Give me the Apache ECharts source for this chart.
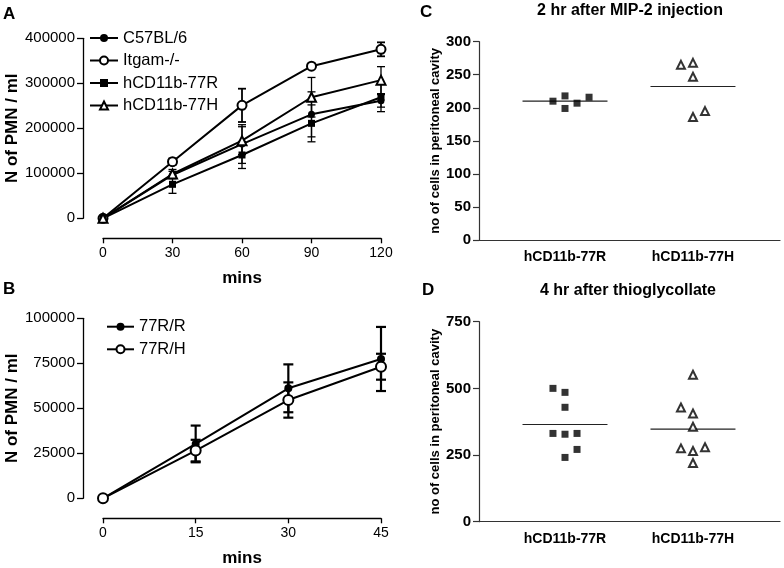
<!DOCTYPE html>
<html>
<head>
<meta charset="utf-8">
<script src="https://cdn.jsdelivr.net/npm/echarts@6/dist/echarts.min.js"></script>
<style>
html,body{margin:0;padding:0;background:#fff;}
#chart{width:784px;height:568px;}
</style>
</head>
<body>
<div id="chart"></div>
<script>
// ---------- Panel A data ----------
const timesA = [0, 30, 60, 90, 120];
const c57 = [0, 96300, 165000, 231000, 261000];
const c57Err = [0, 8000, 43000, 50000, 14000];
const itgam = [0, 125800, 251000, 338000, 375500];
const itgamErr = [0, 7000, 37000, 4000, 15500];
const r77 = [0, 75500, 140700, 211000, 269000];
const r77Err = [0, 20000, 30000, 41000, 32000];
const h77 = [0, 98500, 172500, 269000, 307000];
const h77Err = [0, 10000, 31000, 44000, 30000];
const seriesNamesA = ['C57BL/6', 'Itgam-/-', 'hCD11b-77R', 'hCD11b-77H'];

// ---------- Panel B data ----------
const timesB = [0, 15, 30, 45];
const rr = [0, 30200, 61100, 77400];
const rrErr = [0, 10200, 13300, 17800];
const rh = [0, 26500, 54600, 73100];
const rhErr = [0, 6000, 9800, 7200];
const seriesNamesB = ['77R/R', '77R/H'];

// ---------- Panels C & D data ----------
const groups = ['hCD11b-77R', 'hCD11b-77H'];
const mip77R = [210, 218, 199, 207, 216];
const mip77RSlot = [-1, 0, 0, 1, 2];
const mip77H = [265, 268, 247, 186, 195];
const mip77HSlot = [-1, 0, 0, 0, 1];
const thio77R = [500, 485, 429, 331, 328, 331, 271, 241];
const thio77RSlot = [-1, 0, 0, -1, 0, 1, 1, 0];
const thio77H = [551, 428, 406, 356, 275, 265, 279, 220];
const thio77HSlot = [0, -1, 0, 0, -1, 0, 1, 0];

const FONT = '"Liberation Sans", Arial, Helvetica, sans-serif';
const jitterStep = 0.094;
const meanHalf = 0.332;

const chart = echarts.init(document.getElementById('chart'), null, {renderer: 'canvas'});

function pairs(xs, ys) { return xs.map((x, i) => [x, ys[i]]); }
function mean(a) { return a.reduce((s, v) => s + v, 0) / a.length; }

function errSeries(ax, xs, ms, es, capHalf, lw) {
  const data = [];
  xs.forEach((x, i) => { if (es[i] > 0) data.push([x, ms[i] - es[i], ms[i] + es[i]]); });
  return {
    type: 'custom', xAxisIndex: ax, yAxisIndex: ax, silent: true, z: 1,
    data: data,
    renderItem: function (params, api) {
      const x = api.value(0);
      const lo = api.coord([x, api.value(1)]);
      const hi = api.coord([x, api.value(2)]);
      const st = {stroke: '#000', lineWidth: lw};
      return {type: 'group', children: [
        {type: 'line', shape: {x1: lo[0], y1: lo[1], x2: hi[0], y2: hi[1]}, style: st},
        {type: 'line', shape: {x1: lo[0] - capHalf, y1: lo[1], x2: lo[0] + capHalf, y2: lo[1]}, style: st},
        {type: 'line', shape: {x1: hi[0] - capHalf, y1: hi[1], x2: hi[0] + capHalf, y2: hi[1]}, style: st}
      ]};
    }
  };
}

function lineSeries(ax, name, xs, ys, symbol, size, lw, bw) {
  return {
    type: 'line', name: name, xAxisIndex: ax, yAxisIndex: ax, z: 3,
    data: pairs(xs, ys), symbol: symbol, symbolSize: size, showSymbol: true,
    lineStyle: {color: '#000', width: lw},
    itemStyle: {color: '#000', borderColor: '#000', borderWidth: bw},
    emphasis: {disabled: true}, animation: false
  };
}

function dotSeries(ax, g, vals, slots, symbol, size) {
  return {
    type: 'scatter', xAxisIndex: ax, yAxisIndex: ax, z: 3,
    data: vals.map((v, i) => [g + slots[i] * jitterStep, v]),
    symbol: symbol, symbolSize: size,
    itemStyle: symbol.indexOf('empty') === 0 ? {color: '#000', borderColor: '#000', borderWidth: 1} : {color: '#000'},
    emphasis: {disabled: true}, animation: false
  };
}

function meanSeries(ax, g, vals) {
  const m = mean(vals);
  return {
    type: 'line', xAxisIndex: ax, yAxisIndex: ax, z: 2, symbol: 'none',
    data: [[g - meanHalf, m], [g + meanHalf, m]],
    lineStyle: {color: '#222', width: 1.2}, animation: false
  };
}

const plain = v => String(v);

function xAxisTime(grid, max, interval) {
  return {
    type: 'value', gridIndex: grid, min: 0, max: max, interval: interval, offset: 20,
    axisLine: {onZero: false, lineStyle: {color: '#000', width: 1.3}},
    axisTick: {show: true, length: 5, lineStyle: {color: '#000', width: 1.3}},
    splitLine: {show: false},
    axisLabel: {formatter: plain, color: '#000', fontSize: 14, fontFamily: FONT, margin: 8},
    name: 'mins', nameLocation: 'middle', nameGap: 32,
    nameTextStyle: {color: '#000', fontSize: 17, fontWeight: 'bold', fontFamily: FONT}
  };
}
function yAxisPMN(grid, max, interval) {
  return {
    type: 'value', gridIndex: grid, min: 0, max: max, interval: interval, offset: 20,
    axisLine: {show: true, onZero: false, lineStyle: {color: '#000', width: 1.3}},
    axisTick: {show: true, length: 6, lineStyle: {color: '#000', width: 1.3}},
    splitLine: {show: false},
    axisLabel: {formatter: plain, color: '#000', fontSize: 15, fontFamily: FONT, margin: 8},
    name: 'N of PMN / ml', nameLocation: 'middle', nameRotate: 90, nameGap: 59,
    nameTextStyle: {color: '#000', fontSize: 17, fontWeight: 'bold', fontFamily: FONT}
  };
}
function xAxisGroups(grid) {
  return {
    type: 'value', gridIndex: grid, min: -0.672, max: 1.68,
    axisLine: {onZero: false, lineStyle: {color: '#333', width: 1.2}},
    axisTick: {show: false}, splitLine: {show: false},
    axisLabel: {customValues: [0, 1], formatter: v => groups[Math.round(v)] || '',
      color: '#000', fontSize: 14, fontWeight: 'bold', fontFamily: FONT, margin: 10}
  };
}
function yAxisCells(grid, max, interval) {
  return {
    type: 'value', gridIndex: grid, min: 0, max: max, interval: interval,
    axisLine: {show: true, onZero: false, lineStyle: {color: '#333', width: 1.2}},
    axisTick: {show: true, length: 6, lineStyle: {color: '#333', width: 1.2}},
    splitLine: {show: false},
    axisLabel: {formatter: plain, color: '#000', fontSize: 15, fontWeight: 'bold', fontFamily: FONT, margin: 8},
    name: 'no of cells in peritoneal cavity', nameLocation: 'middle', nameRotate: 90, nameGap: 37,
    nameTextStyle: {color: '#000', fontSize: 13, fontWeight: 'bold', fontFamily: FONT}
  };
}

const legendText = {color: '#000', fontSize: 16.5, fontFamily: FONT, lineHeight: 18};

const option = {
  backgroundColor: '#fff',
  animation: false,
  grid: [
    {left: 103, top: 38.3, width: 278, height: 180, outerBoundsMode: 'none'},
    {left: 103, top: 318.3, width: 278, height: 180, outerBoundsMode: 'none'},
    {left: 479, top: 41.7, width: 301, height: 198.3, outerBoundsMode: 'none'},
    {left: 479, top: 321.7, width: 301, height: 200, outerBoundsMode: 'none'}
  ],
  xAxis: [xAxisTime(0, 120, 30), xAxisTime(1, 45, 15), xAxisGroups(2), xAxisGroups(3)],
  yAxis: [yAxisPMN(0, 400000, 100000), yAxisPMN(1, 100000, 25000), yAxisCells(2, 300, 50), yAxisCells(3, 750, 250)],
  legend: [
    {data: seriesNamesA, orient: 'vertical', left: 89, top: 29, padding: 0, itemWidth: 28, itemHeight: 10, itemGap: 4.5,
      textStyle: legendText, selectedMode: false},
    {data: seriesNamesB, orient: 'vertical', left: 106, top: 317.7, padding: 0, itemWidth: 27, itemHeight: 10, itemGap: 4.6,
      textStyle: legendText, selectedMode: false}
  ],
  graphic: [
    {type: 'text', x: 3, y: 6, style: {text: 'A', font: 'bold 17px ' + FONT, fill: '#000'}},
    {type: 'text', x: 3, y: 281, style: {text: 'B', font: 'bold 17px ' + FONT, fill: '#000'}},
    {type: 'text', x: 420, y: 4, style: {text: 'C', font: 'bold 17px ' + FONT, fill: '#000'}},
    {type: 'text', x: 422, y: 282, style: {text: 'D', font: 'bold 17px ' + FONT, fill: '#000'}},
    {type: 'text', x: 630, y: 11, style: {text: '2 hr after MIP-2 injection', font: 'bold 16px ' + FONT, fill: '#000', textAlign: 'center', textVerticalAlign: 'middle'}},
    {type: 'text', x: 628, y: 291, style: {text: '4 hr after thioglycollate', font: 'bold 16px ' + FONT, fill: '#000', textAlign: 'center', textVerticalAlign: 'middle'}}
  ],
  series: [
    errSeries(0, timesA, c57, c57Err, 4, 1.3),
    errSeries(0, timesA, itgam, itgamErr, 4, 1.8),
    errSeries(0, timesA, r77, r77Err, 4, 1.3),
    errSeries(0, timesA, h77, h77Err, 4, 1.3),
    lineSeries(0, seriesNamesA[0], timesA, c57, 'circle', 7, 2, 0),
    lineSeries(0, seriesNamesA[1], timesA, itgam, 'emptyCircle', 9, 2, 1.8),
    lineSeries(0, seriesNamesA[2], timesA, r77, 'rect', 7, 2, 0),
    lineSeries(0, seriesNamesA[3], timesA, h77, 'emptyTriangle', 9, 2, 1.5),

    errSeries(1, timesB, rr, rrErr, 5, 2.2),
    errSeries(1, timesB, rh, rhErr, 5, 2.2),
    lineSeries(1, seriesNamesB[0], timesB, rr, 'circle', 8, 2, 0),
    lineSeries(1, seriesNamesB[1], timesB, rh, 'emptyCircle', 10, 2, 2),

    meanSeries(2, 0, mip77R),
    meanSeries(2, 1, mip77H),
    dotSeries(2, 0, mip77R, mip77RSlot, 'rect', 7),
    dotSeries(2, 1, mip77H, mip77HSlot, 'emptyTriangle', 8),

    meanSeries(3, 0, thio77R),
    meanSeries(3, 1, thio77H),
    dotSeries(3, 0, thio77R, thio77RSlot, 'rect', 7),
    dotSeries(3, 1, thio77H, thio77HSlot, 'emptyTriangle', 8)
  ]
};
chart.setOption(option);
</script>
</body>
</html>
